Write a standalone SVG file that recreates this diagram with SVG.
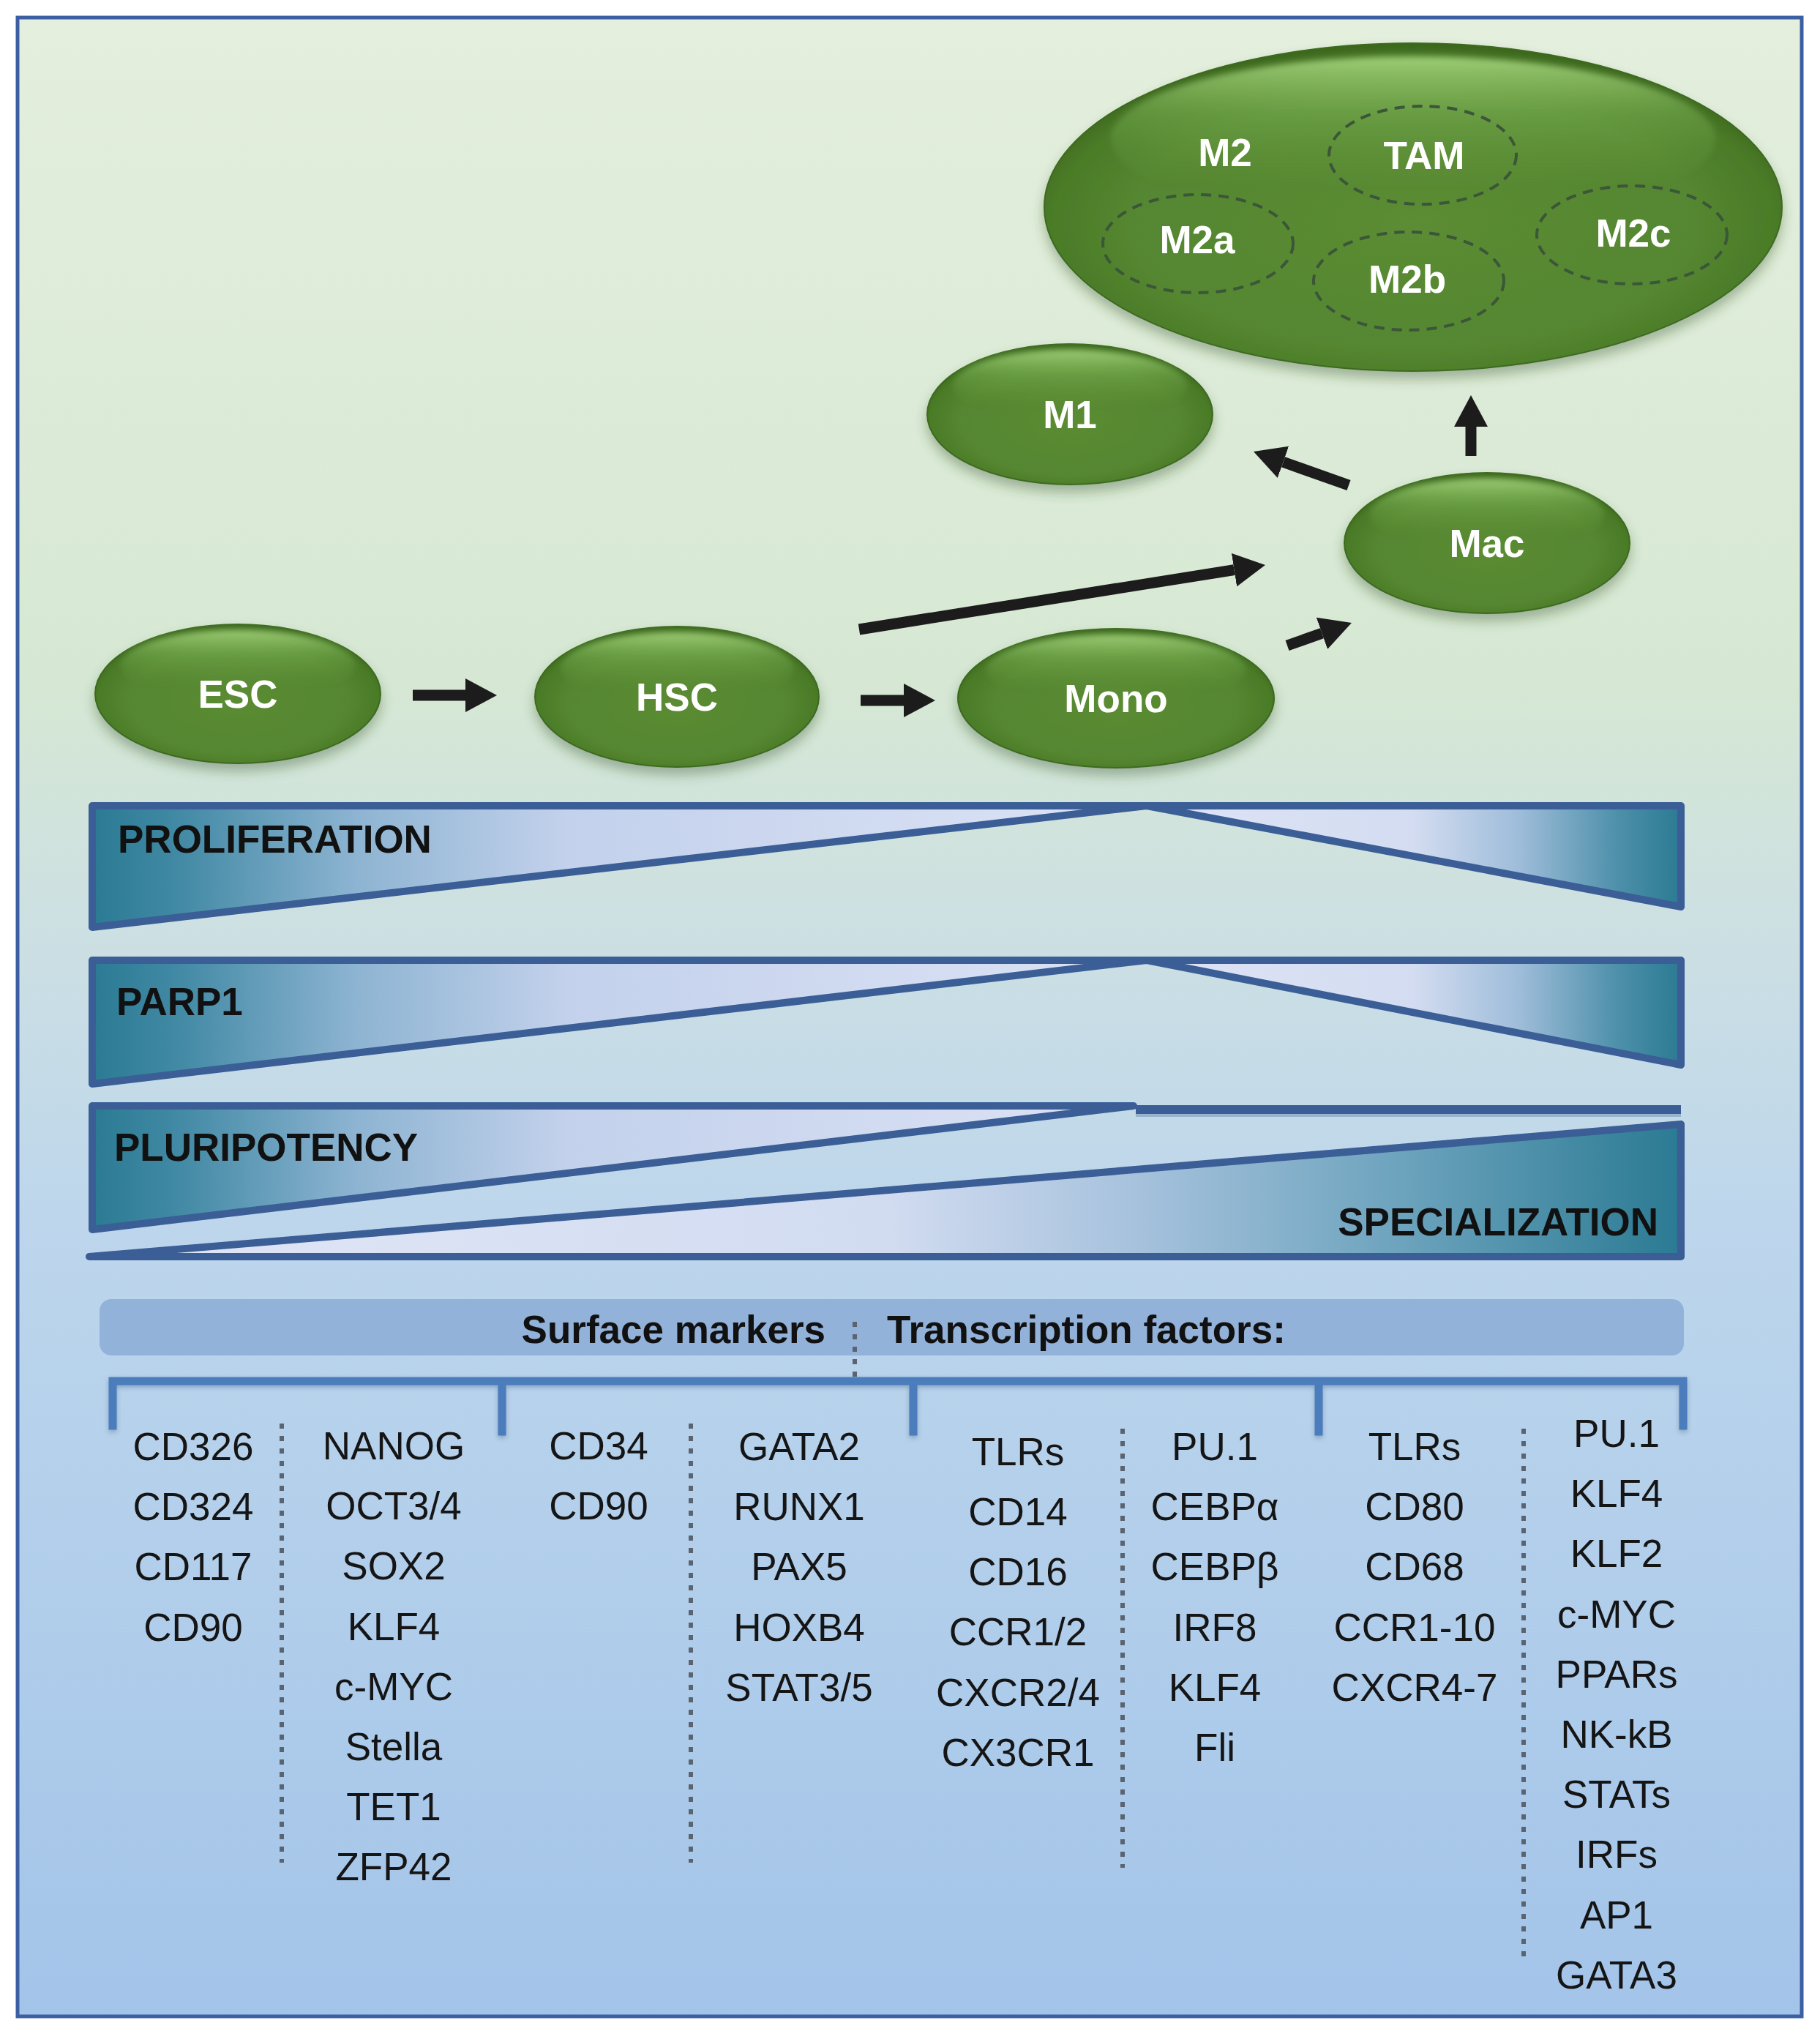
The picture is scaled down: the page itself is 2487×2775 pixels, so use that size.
<svg xmlns="http://www.w3.org/2000/svg" width="2487" height="2775" viewBox="0 0 2487 2775">
<defs>
  <linearGradient id="bg" x1="0" y1="25" x2="0" y2="2757" gradientUnits="userSpaceOnUse">
    <stop offset="0" stop-color="#e4efdd"/>
    <stop offset="0.33" stop-color="#d6e8d3"/>
    <stop offset="0.45" stop-color="#cde0e2"/>
    <stop offset="0.6" stop-color="#bdd6ec"/>
    <stop offset="1" stop-color="#a3c4e9"/>
  </linearGradient>
  <radialGradient id="gBody" cx="50%" cy="55%" r="55%">
    <stop offset="0" stop-color="#5b8c34"/>
    <stop offset="0.7" stop-color="#558630"/>
    <stop offset="0.9" stop-color="#4a7a27"/>
    <stop offset="1" stop-color="#3b661d"/>
  </radialGradient>
  <linearGradient id="gHi" x1="0" y1="0" x2="0" y2="1">
    <stop offset="0" stop-color="#b4e38c" stop-opacity="0.8"/>
    <stop offset="0.35" stop-color="#8cc464" stop-opacity="0.35"/>
    <stop offset="0.8" stop-color="#6fa448" stop-opacity="0"/>
  </linearGradient>
  <filter id="shadow" x="-20%" y="-20%" width="140%" height="150%">
    <feDropShadow dx="0" dy="10" stdDeviation="8" flood-color="#2d4a1c" flood-opacity="0.35"/>
  </filter>
  <filter id="soft" x="-10%" y="-20%" width="120%" height="140%">
    <feGaussianBlur stdDeviation="4"/>
  </filter>
  <filter id="bshadow" x="-5%" y="-50%" width="110%" height="200%">
    <feDropShadow dx="0" dy="3" stdDeviation="3" flood-color="#2a4a70" flood-opacity="0.35"/>
  </filter>
  <linearGradient id="tealL" x1="126" y1="0" x2="1567" y2="0" gradientUnits="userSpaceOnUse">
    <stop offset="0" stop-color="#2b7a93"/>
    <stop offset="0.08" stop-color="#4189a4"/>
    <stop offset="0.25" stop-color="#8db4d2"/>
    <stop offset="0.45" stop-color="#c3d1ec"/>
    <stop offset="1" stop-color="#dde3f5"/>
  </linearGradient>
  <linearGradient id="tealR" x1="1567" y1="0" x2="2297" y2="0" gradientUnits="userSpaceOnUse">
    <stop offset="0" stop-color="#dfe4f6"/>
    <stop offset="0.5" stop-color="#d3dcf1"/>
    <stop offset="0.7" stop-color="#9dbcd9"/>
    <stop offset="0.88" stop-color="#4e90aa"/>
    <stop offset="1" stop-color="#2b7a93"/>
  </linearGradient>
  <linearGradient id="tealS" x1="122" y1="0" x2="2297" y2="0" gradientUnits="userSpaceOnUse">
    <stop offset="0" stop-color="#e0e6f6"/>
    <stop offset="0.5" stop-color="#d2dcf1"/>
    <stop offset="0.65" stop-color="#a9c3de"/>
    <stop offset="0.82" stop-color="#6ea4be"/>
    <stop offset="1" stop-color="#2b7a93"/>
  </linearGradient>
  <marker id="ah" markerUnits="userSpaceOnUse" markerWidth="44" markerHeight="46" refX="0" refY="23" orient="auto">
    <path d="M0,0 L43,23 L0,46 Z" fill="#1c1c1c"/>
  </marker>
  <style>
    .body{fill:url(#gBody);stroke:#3d6a20;stroke-width:2}
    .hi{fill:url(#gHi);filter:url(#soft)}
    .nlabel{font-family:"Liberation Sans",Arial,sans-serif;font-weight:bold;font-size:53px;fill:#ffffff;text-anchor:middle}
    .dash{fill:none;stroke:#3a5638;stroke-width:4;stroke-dasharray:14 10}
    .arrow{stroke:#1c1c1c;stroke-width:15;fill:none;marker-end:url(#ah)}
    .bar{fill:none;stroke:#3a5e95;stroke-width:10;stroke-linejoin:round;stroke-linecap:round}
    .blabel{font-family:"Liberation Sans",Arial,sans-serif;font-weight:bold;font-size:53px;fill:#111}
    .hdr{font-family:"Liberation Sans",Arial,sans-serif;font-weight:bold;font-size:53px;fill:#111}
    .item{font-family:"Liberation Sans",Arial,sans-serif;font-size:53px;fill:#151515;text-anchor:middle}
    .dots{stroke:#5a6470;stroke-width:6;stroke-dasharray:7 10;fill:none}
    .brk{stroke:#4c7bbb;stroke-width:11;fill:none;stroke-linecap:square}
  </style>
</defs>

<rect x="0" y="0" width="2487" height="2775" fill="#ffffff"/>
<rect id="frame" x="24" y="24" width="2438" height="2731" fill="url(#bg)" stroke="#3c5fa3" stroke-width="5"/>

<!-- Cell nodes -->
<g id="node-M2" filter="url(#shadow)">
  <ellipse class="body" cx="1931" cy="283" rx="504" ry="224"/>
  <ellipse class="hi" cx="1931" cy="189" rx="413" ry="112"/>
  <ellipse class="dash" cx="1944" cy="212" rx="128" ry="67"/>
  <ellipse class="dash" cx="1637" cy="333" rx="130" ry="67"/>
  <ellipse class="dash" cx="1925" cy="384" rx="130" ry="67"/>
  <ellipse class="dash" cx="2230" cy="321" rx="130" ry="67"/>
  <text class="nlabel" x="1674" y="227">M2</text>
  <text class="nlabel" x="1946" y="231">TAM</text>
  <text class="nlabel" x="1636" y="346">M2a</text>
  <text class="nlabel" x="1923" y="400">M2b</text>
  <text class="nlabel" x="2232" y="337">M2c</text>
</g>
<g id="node-M1" filter="url(#shadow)">
  <ellipse class="body" cx="1462" cy="566" rx="195" ry="96"/>
  <ellipse class="hi" cx="1462" cy="526" rx="160" ry="48"/>
  <text class="nlabel" x="1462" y="585">M1</text>
</g>
<g id="node-Mac" filter="url(#shadow)">
  <ellipse class="body" cx="2032" cy="742" rx="195" ry="96"/>
  <ellipse class="hi" cx="2032" cy="702" rx="160" ry="48"/>
  <text class="nlabel" x="2032" y="761">Mac</text>
</g>
<g id="node-ESC" filter="url(#shadow)">
  <ellipse class="body" cx="325" cy="948" rx="195" ry="95"/>
  <ellipse class="hi" cx="325" cy="908" rx="160" ry="47"/>
  <text class="nlabel" x="325" y="967">ESC</text>
</g>
<g id="node-HSC" filter="url(#shadow)">
  <ellipse class="body" cx="925" cy="952" rx="194" ry="96"/>
  <ellipse class="hi" cx="925" cy="912" rx="159" ry="48"/>
  <text class="nlabel" x="925" y="971">HSC</text>
</g>
<g id="node-Mono" filter="url(#shadow)">
  <ellipse class="body" cx="1525" cy="954" rx="216" ry="95"/>
  <ellipse class="hi" cx="1525" cy="914" rx="177" ry="47"/>
  <text class="nlabel" x="1525" y="973">Mono</text>
</g>

<!-- Connectors -->
<g id="connectors">
  <line class="arrow" x1="564" y1="950" x2="636" y2="950"/>
  <line class="arrow" x1="1176" y1="957" x2="1235" y2="957"/>
  <line class="arrow" x1="1174" y1="860" x2="1686.5" y2="778.7"/>
  <line class="arrow" x1="1759" y1="882" x2="1806.4" y2="865.3"/>
  <line class="arrow" x1="1843" y1="663" x2="1753.5" y2="631.3"/>
  <line class="arrow" x1="2010" y1="623" x2="2010" y2="583"/>
</g>

<!-- Trend bars -->
<g id="bar-proliferation">
  <polygon points="126,1101 1567,1101 126,1267" fill="url(#tealL)"/>
  <polygon points="1567,1101 2297,1101 2297,1239" fill="url(#tealR)"/>
  <path class="bar" d="M126,1101 L2297,1101 M126,1101 L126,1267 L1567,1101 L2297,1239 L2297,1101"/>
  <text class="blabel" x="161" y="1165">PROLIFERATION</text>
</g>
<g id="bar-parp1">
  <polygon points="126,1312 1567,1312 126,1481" fill="url(#tealL)"/>
  <polygon points="1567,1312 2297,1312 2297,1455" fill="url(#tealR)"/>
  <path class="bar" d="M126,1312 L2297,1312 M126,1312 L126,1481 L1567,1312 L2297,1455 L2297,1312"/>
  <text class="blabel" x="159" y="1387">PARP1</text>
</g>
<g id="bar-pluripotency">
  <polygon points="126,1511 1549,1511 126,1680" fill="url(#tealL)"/>
  <path class="bar" d="M1549,1511 L126,1511 L126,1680 L1549,1511"/>
  <rect x="1552" y="1510" width="745" height="12" fill="#3a5e95"/>
  <rect x="1552" y="1522" width="745" height="4" fill="#3a5e95" opacity="0.3"/>
  <text class="blabel" x="156" y="1586">PLURIPOTENCY</text>
</g>
<g id="bar-specialization">
  <polygon points="122,1717 2297,1536 2297,1717" fill="url(#tealS)"/>
  <path class="bar" d="M122,1717 L2297,1536 L2297,1717 Z"/>
  <text class="blabel" x="2266" y="1688" text-anchor="end">SPECIALIZATION</text>
</g>

<!-- Header -->
<g id="header">
  <rect x="136" y="1775" width="2165" height="77" rx="16" fill="#93b2da"/>
  <text class="hdr" x="1128" y="1835" text-anchor="end">Surface markers</text>
  <text class="hdr" x="1212" y="1835">Transcription factors:</text>
  <line class="dots" x1="1168" y1="1806" x2="1168" y2="1892"/>
</g>

<!-- Bracket -->
<g id="bracket" filter="url(#bshadow)">
  <path class="brk" d="M154,1948 L154,1887 L2300,1887 L2300,1948 M686,1887 L686,1956 M1248,1887 L1248,1956 M1802,1887 L1802,1956"/>
</g>

<!-- Separators -->
<g id="separators">
  <line class="dots" x1="385" y1="1945" x2="385" y2="2545"/>
  <line class="dots" x1="944" y1="1945" x2="944" y2="2545"/>
  <line class="dots" x1="1534" y1="1952" x2="1534" y2="2552"/>
  <line class="dots" x1="2082" y1="1952" x2="2082" y2="2675"/>
</g>

<!-- Lists -->
<g id="col-esc-surface">
  <text class="item" x="264" y="1995">CD326</text>
  <text class="item" x="264" y="2077">CD324</text>
  <text class="item" x="264" y="2159">CD117</text>
  <text class="item" x="264" y="2242">CD90</text>
</g>
<g id="col-esc-tf">
  <text class="item" x="538" y="1994">NANOG</text>
  <text class="item" x="538" y="2076">OCT3/4</text>
  <text class="item" x="538" y="2158">SOX2</text>
  <text class="item" x="538" y="2241">KLF4</text>
  <text class="item" x="538" y="2323">c-MYC</text>
  <text class="item" x="538" y="2405">Stella</text>
  <text class="item" x="538" y="2487">TET1</text>
  <text class="item" x="538" y="2569">ZFP42</text>
</g>
<g id="col-hsc-surface">
  <text class="item" x="818" y="1994">CD34</text>
  <text class="item" x="818" y="2076">CD90</text>
</g>
<g id="col-hsc-tf">
  <text class="item" x="1092" y="1995">GATA2</text>
  <text class="item" x="1092" y="2077">RUNX1</text>
  <text class="item" x="1092" y="2159">PAX5</text>
  <text class="item" x="1092" y="2242">HOXB4</text>
  <text class="item" x="1092" y="2324">STAT3/5</text>
</g>
<g id="col-mono-surface">
  <text class="item" x="1391" y="2002">TLRs</text>
  <text class="item" x="1391" y="2084">CD14</text>
  <text class="item" x="1391" y="2166">CD16</text>
  <text class="item" x="1391" y="2248">CCR1/2</text>
  <text class="item" x="1391" y="2331">CXCR2/4</text>
  <text class="item" x="1391" y="2413">CX3CR1</text>
</g>
<g id="col-mono-tf">
  <text class="item" x="1660" y="1995">PU.1</text>
  <text class="item" x="1660" y="2077">CEBPα</text>
  <text class="item" x="1660" y="2159">CEBPβ</text>
  <text class="item" x="1660" y="2242">IRF8</text>
  <text class="item" x="1660" y="2324">KLF4</text>
  <text class="item" x="1660" y="2406">Fli</text>
</g>
<g id="col-mac-surface">
  <text class="item" x="1933" y="1995">TLRs</text>
  <text class="item" x="1933" y="2077">CD80</text>
  <text class="item" x="1933" y="2159">CD68</text>
  <text class="item" x="1933" y="2242">CCR1-10</text>
  <text class="item" x="1933" y="2324">CXCR4-7</text>
</g>
<g id="col-mac-tf">
  <text class="item" x="2209" y="1977">PU.1</text>
  <text class="item" x="2209" y="2059">KLF4</text>
  <text class="item" x="2209" y="2141">KLF2</text>
  <text class="item" x="2209" y="2224">c-MYC</text>
  <text class="item" x="2209" y="2306">PPARs</text>
  <text class="item" x="2209" y="2388">NK-kB</text>
  <text class="item" x="2209" y="2470">STATs</text>
  <text class="item" x="2209" y="2552">IRFs</text>
  <text class="item" x="2209" y="2635">AP1</text>
  <text class="item" x="2209" y="2717">GATA3</text>
</g>
</svg>
